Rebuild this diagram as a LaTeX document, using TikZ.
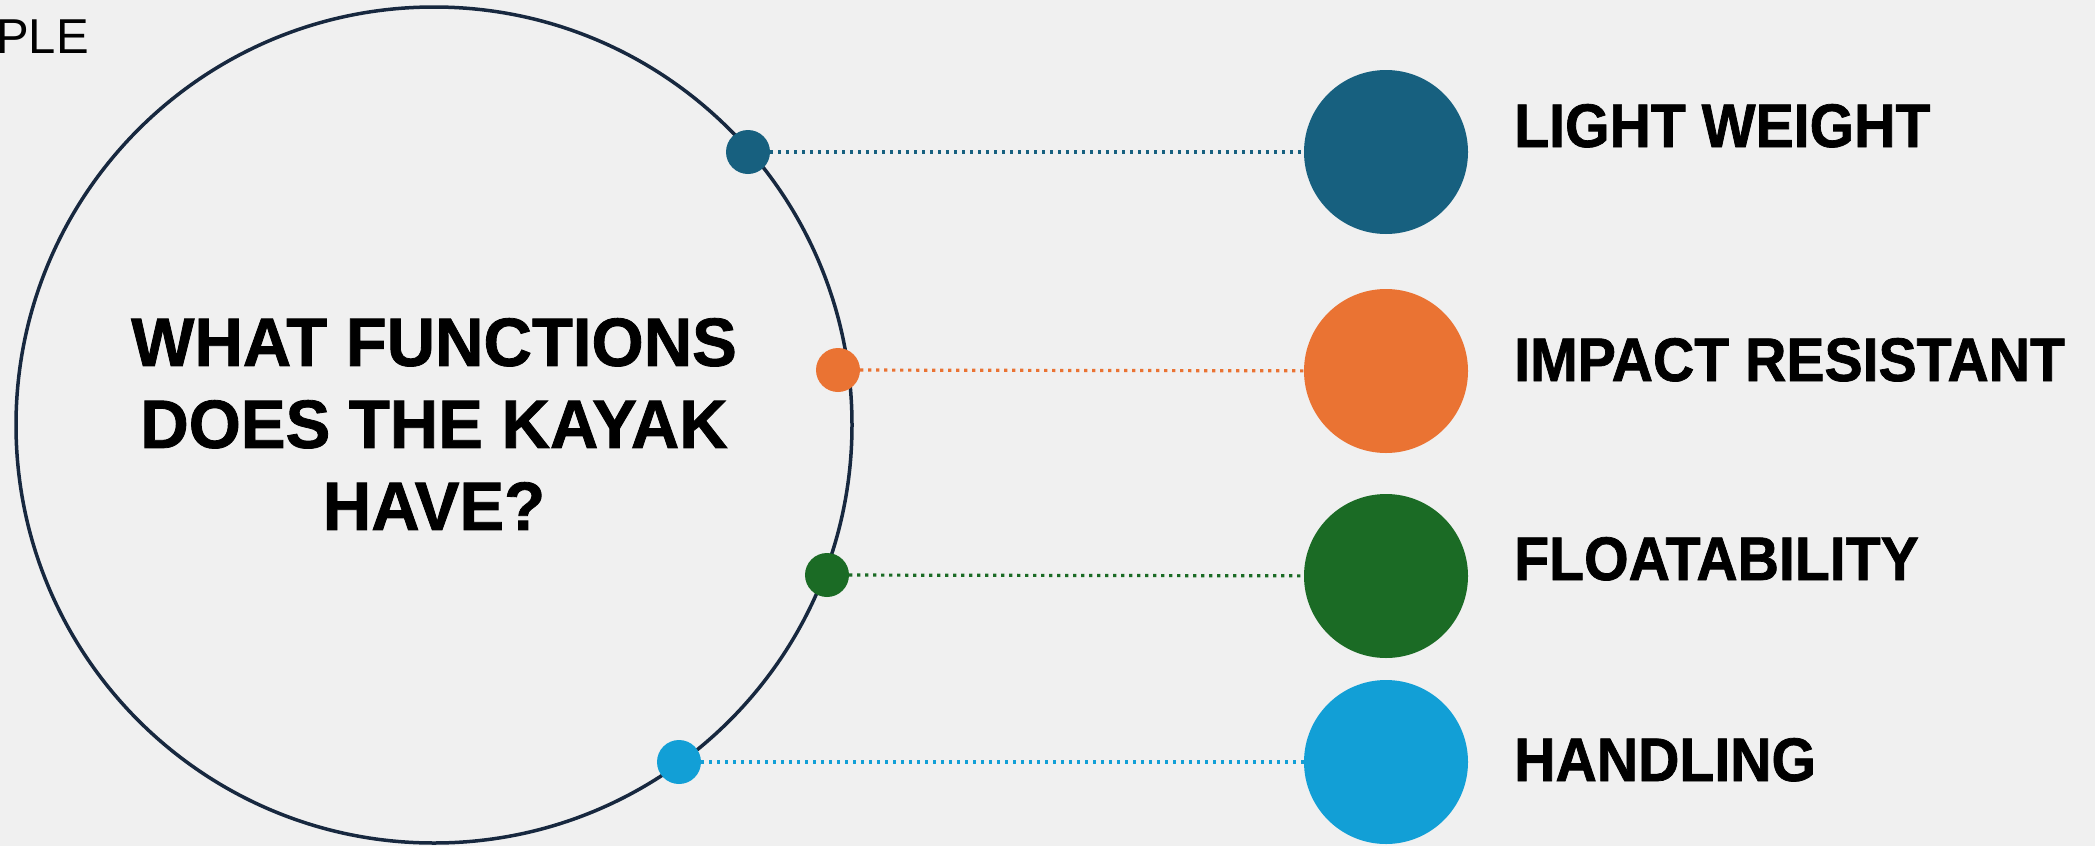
\documentclass[tikz,border=0pt]{standalone}
\usepackage{fontspec}
\setmainfont{Liberation Sans}
\newfontfamily\headfont[FakeStretch=0.98, FakeBold=1.2]{Liberation Sans}
\newfontfamily\labfont[FakeStretch=0.93, FakeBold=1.2]{Liberation Sans}

\definecolor{paper}{RGB}{240,240,240}
\definecolor{ring}{HTML}{17283F}
\definecolor{fnblue}{HTML}{17607F}
\definecolor{fnorange}{HTML}{EA7333}
\definecolor{fngreen}{HTML}{1B6B25}
\definecolor{fnsky}{HTML}{129FD6}

\tikzset{
  hubring/.style={circle, draw=ring, line width=3.5pt, minimum size=836pt, inner sep=0pt},
  pin/.style={circle, fill=#1, minimum size=44pt, inner sep=0pt},
  bigdot/.style={circle, fill=#1, minimum size=164pt, inner sep=0pt},
  link/.style={draw=#1, line width=3.2pt, dash pattern=on 3.2pt off 4.8pt},
  label/.style={anchor=base west, inner sep=0pt, font=\labfont\bfseries\fontsize{61.5}{70}\selectfont},
}

\begin{document}
\begin{tikzpicture}[x=1pt, y=-1pt]
\useasboundingbox (0,0) rectangle (2095,846);
\fill[paper] (0,0) rectangle (2095,846);

% clipped heading remnant in the corner
\node[anchor=base west, inner sep=0pt, font=\fontsize{49}{56}\selectfont] (corner) at (-4,53) {PLE};

% central ring with its question
\node[hubring] (hub) at (434,425) {};
\node[align=center, inner sep=0pt, font=\headfont\bfseries\fontsize{68.4}{82}\selectfont] (question) at (434,424)
  {WHAT FUNCTIONS\\DOES THE KAYAK\\HAVE?};

% small pins on the ring
\node[pin=fnblue]   (p1) at (748,152) {};
\node[pin=fnorange] (p2) at (838,370) {};
\node[pin=fngreen]  (p3) at (827,575) {};
\node[pin=fnsky]    (p4) at (679,762) {};

% large markers
\node[bigdot=fnblue]   (b1) at (1386,152) {};
\node[bigdot=fnorange] (b2) at (1386,371) {};
\node[bigdot=fngreen]  (b3) at (1386,576) {};
\node[bigdot=fnsky]    (b4) at (1386,762) {};

% dotted links
\draw[link=fnblue]   (p1) -- (b1);
\draw[link=fnorange] (p2) -- (b2);
\draw[link=fngreen]  (p3) -- (b3);
\draw[link=fnsky]    (p4) -- (b4);

% function labels
\node[label] (t1) at (1514,147) {LIGHT WEIGHT};
\node[label] (t2) at (1514,381) {IMPACT RESISTANT};
\node[label] (t3) at (1514,580) {FLOATABILITY};
\node[label] (t4) at (1514,781) {HANDLING};
\end{tikzpicture}
\end{document}
